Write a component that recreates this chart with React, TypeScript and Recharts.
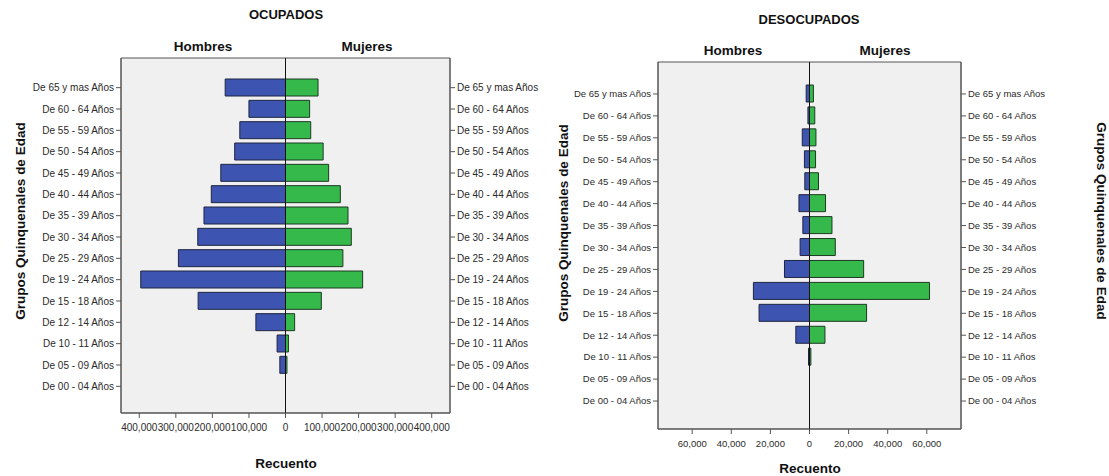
import React from "react";
import { BarChart, Bar, XAxis, YAxis, ReferenceArea, ReferenceLine } from "recharts";

const groups = [
  "De 65 y mas Años", "De 60 - 64 Años", "De 55 - 59 Años", "De 50 - 54 Años",
  "De 45 - 49 Años", "De 40 - 44 Años", "De 35 - 39 Años", "De 30 - 34 Años",
  "De 25 - 29 Años", "De 19 - 24 Años", "De 15 - 18 Años", "De 12 - 14 Años",
  "De 10 - 11 Años", "De 05 - 09 Años", "De 00 - 04 Años",
];

const ocupadosHombres = [165000, 100000, 125000, 139000, 177000, 203000, 223000, 240000, 293000, 396000, 239000, 81000, 23000, 15500, 0];
const ocupadosMujeres = [89000, 66000, 69000, 103000, 118000, 150000, 171000, 180000, 157000, 211000, 98000, 25000, 8000, 4000, 0];

const desocupadosHombres = [1700, 800, 3700, 2600, 2400, 5400, 3400, 4800, 12800, 28700, 25800, 7000, 500, 0, 0];
const desocupadosMujeres = [2000, 2700, 3300, 3100, 4600, 8200, 11500, 13200, 27700, 61400, 29200, 7900, 700, 0, 0];

const ocupadosTicks = [-400000, -300000, -200000, -100000, 0, 100000, 200000, 300000, 400000];
const desocupadosTicks = [-60000, -40000, -20000, 0, 20000, 40000, 60000];

const build = (men: number[], women: number[]) =>
  groups.map((g, i) => ({ group: g, hombres: -men[i], mujeres: women[i] }));

const ocupadosData = build(ocupadosHombres, ocupadosMujeres);
const desocupadosData = build(desocupadosHombres, desocupadosMujeres);

const FONT = "'Liberation Sans', Arial, sans-serif";
const BLUE = "#3d54b0";
const GREEN = "#35b94a";
const fmt = (v: number) => Math.abs(v).toLocaleString("en-US");

type PyramidProps = {
  data: any[];
  width: number;
  height: number;
  margin: { top: number; right: number; bottom: number; left: number };
  leftW: number;
  rightW: number;
  domain: [number, number];
  ticks: number[];
  pad: { top: number; bottom: number };
  fontSize: number;
  barSize: number;
};

function Pyramid(p: PyramidProps) {
  const tickStyle = { fontSize: p.fontSize, fill: "#2a2a2a", fontFamily: FONT };
  const catTick = (anchor: "start" | "end") => (props: any) => (
    <text
      x={props.x}
      y={props.y}
      dy="0.35em"
      textAnchor={anchor}
      fontSize={p.fontSize}
      fill="#2a2a2a"
      fontFamily={FONT}
    >
      {props.payload.value}
    </text>
  );
  return (
    <BarChart
      width={p.width}
      height={p.height}
      data={p.data}
      layout="vertical"
      stackOffset="sign"
      margin={p.margin}
      barSize={p.barSize}
    >
      <YAxis yAxisId="full" type="number" domain={[0, 1]} allowDataOverflow hide />
      <ReferenceArea
        yAxisId="full"
        x1={p.domain[0]}
        x2={p.domain[1]}
        fill="#f0f0f0"
        fillOpacity={1}
        stroke="#555"
        strokeWidth={1}
      />
      <XAxis
        type="number"
        domain={p.domain}
        ticks={p.ticks}
        tickFormatter={fmt}
        allowDataOverflow
        height={30}
        tickSize={5}
        tickMargin={6}
        interval={0}
        stroke="#555"
        tick={tickStyle}
      />
      <YAxis
        type="category"
        dataKey="group"
        width={p.leftW}
        tickSize={5}
        tickMargin={2}
        interval={0}
        stroke="#555"
        padding={p.pad}
        tick={catTick("end")}
      />
      <YAxis
        yAxisId="r"
        orientation="right"
        type="category"
        dataKey="group"
        width={p.rightW}
        tickSize={5}
        tickMargin={2}
        interval={0}
        stroke="#555"
        padding={p.pad}
        tick={catTick("start")}
      />
      <Bar dataKey="hombres" stackId="s" fill={BLUE} stroke="#1f2540" strokeWidth={1} isAnimationActive={false} />
      <Bar dataKey="mujeres" stackId="s" fill={GREEN} stroke="#1d3a22" strokeWidth={1} isAnimationActive={false} />
      <ReferenceLine yAxisId="full" x={0} stroke="#111" strokeWidth={1} />
    </BarChart>
  );
}

const Txt = ({ x, y, children, size = 13, rotate = 0 }: any) => (
  <div
    style={{
      position: "absolute",
      left: x,
      top: y,
      transform: `translate(-50%, -50%) rotate(${rotate}deg)`,
      fontFamily: FONT,
      fontWeight: "bold",
      fontSize: size,
      color: "#111",
      whiteSpace: "nowrap",
    }}
  >
    {children}
  </div>
);

export default function App() {
  return (
    <div style={{ position: "absolute", left: 0, top: 0, width: 1109, height: 476, background: "#fff" }}>
      <div style={{ position: "absolute", left: 0, top: 0 }}>
        <Pyramid
          data={ocupadosData}
          width={540}
          height={476}
          margin={{ top: 58, right: 0, bottom: 33, left: 0 }}
          leftW={121}
          rightW={90}
          domain={[-450000, 450000]}
          ticks={ocupadosTicks}
          pad={{ top: 19, bottom: 16 }}
          fontSize={10}
          barSize={17}
        />
      </div>
      <div style={{ position: "absolute", left: 540, top: 0 }}>
        <Pyramid
          data={desocupadosData}
          width={569}
          height={476}
          margin={{ top: 62, right: 0, bottom: 17, left: 0 }}
          leftW={118}
          rightW={148}
          domain={[-77500, 77500]}
          ticks={desocupadosTicks}
          pad={{ top: 21, bottom: 17 }}
          fontSize={9.5}
          barSize={17}
        />
      </div>
      <Txt x={286} y={14}>OCUPADOS</Txt>
      <Txt x={203} y={46} size={13.5}>Hombres</Txt>
      <Txt x={367} y={46} size={13.5}>Mujeres</Txt>
      <Txt x={286} y={463} size={13.5}>Recuento</Txt>
      <Txt x={20} y={221} size={13.5} rotate={-90}>Grupos Quinquenales de Edad</Txt>

      <Txt x={809} y={19}>DESOCUPADOS</Txt>
      <Txt x={733} y={50} size={13.5}>Hombres</Txt>
      <Txt x={885} y={50} size={13.5}>Mujeres</Txt>
      <Txt x={810} y={468} size={13.5}>Recuento</Txt>
      <Txt x={563} y={223} size={13.5} rotate={-90}>Grupos Quinquenales de Edad</Txt>
      <Txt x={1101} y={221} size={13.5} rotate={90}>Grupos Quinquenales de Edad</Txt>
    </div>
  );
}
